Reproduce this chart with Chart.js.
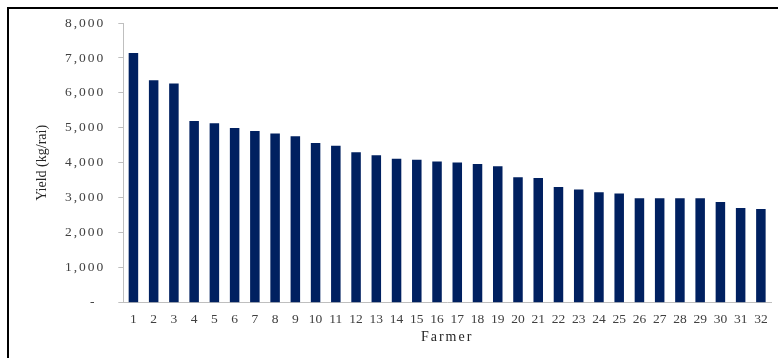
<!DOCTYPE html>
<html>
<head>
<meta charset="utf-8">
<script src="https://cdn.jsdelivr.net/npm/chart.js@4/dist/chart.umd.min.js"></script>
<style>
  html, body { margin: 0; padding: 0; background: #fff; }
  #wrap { position: relative; width: 778px; height: 358px; overflow: hidden; }
  #frame { position: absolute; left: 7px; top: 7px; right: -4px; bottom: -4px;
           border-top: 2px solid #000; border-left: 2px solid #000; pointer-events: none; }
</style>
</head>
<body>
<div id="wrap">
  <canvas id="chart" width="778" height="358"></canvas>
  <div id="frame"></div>
</div>
<script>
// farmers 1..32, yield in kg/rai
const farmers = ["1","2","3","4","5","6","7","8","9","10","11","12","13","14","15","16",
  "17","18","19","20","21","22","23","24","25","26","27","28","29","30","31","32"];
const yieldKgRai = [7140, 6360, 6270, 5200, 5130, 5000, 4910, 4840, 4760, 4570, 4490, 4300,
  4220, 4120, 4090, 4040, 4010, 3970, 3900, 3590, 3570, 3310, 3240, 3160, 3120, 2990,
  2990, 2990, 2990, 2880, 2710, 2680];
const yTicks = [0, 1000, 2000, 3000, 4000, 5000, 6000, 7000, 8000];

const serif = "'Liberation Serif', 'Times New Roman', serif";

// the source picture is stretched sideways, so widen horizontal text a bit
const wideText = {
  id: 'wideText',
  beforeDraw(chart) {
    const ctx = chart.ctx;
    const ys = chart.scales.y, xs = chart.scales.x;
    if (ys && !ys._wide) {
      const orig = ys.drawLabels.bind(ys);
      ys.drawLabels = function(area) {
        ctx.save(); ctx.letterSpacing = '2px'; orig(area); ctx.restore();
      };
      ys._wide = true;
    }
    if (xs && !xs._wide) {
      const origT = xs.drawTitle.bind(xs);
      xs.drawTitle = function(area) {
        ctx.save(); ctx.letterSpacing = '2px'; origT(area); ctx.restore();
      };
      xs._wide = true;
    }
  }
};

new Chart(document.getElementById('chart'), {
  type: 'bar',
  data: {
    labels: farmers,
    datasets: [{
      data: yieldKgRai,
      backgroundColor: '#002060',
      categoryPercentage: 1,
      barPercentage: 0.47
    }]
  },
  options: {
    responsive: false,
    animation: false,
    layout: { padding: { top: 23, right: 7, left: 0, bottom: 0 } },
    plugins: { legend: { display: false }, tooltip: { enabled: false } },
    scales: {
      x: {
        afterFit: s => { s.height = 55.3; },
        grid: { display: false },
        border: { display: true, color: '#bfbfbf', width: 1 },
        ticks: { color: '#404040', padding: 1, maxRotation: 0, autoSkip: false,
                 font: { family: serif, size: 13.5 } },
        title: { display: true, text: 'Farmer', color: '#262626',
                 font: { family: serif, size: 14 }, padding: { top: 0, bottom: 12 } }
      },
      y: {
        min: 0, max: 8000,
        afterFit: s => { s.width = 123.3; },
        afterBuildTicks: s => { s.ticks = yTicks.map(v => ({ value: v })); },
        grid: { drawOnChartArea: false, drawTicks: true, tickLength: 5, color: '#bfbfbf' },
        border: { display: true, color: '#bfbfbf', width: 1 },
        ticks: {
          color: '#404040', padding: 13,
          font: { family: serif, size: 13.5 },
          callback: v => v === 0 ? '-\u2002' : v.toLocaleString('en-US')
        },
        title: { display: true, text: 'Yield (kg/rai)', color: '#262626',
                 font: { family: serif, size: 14 }, padding: { top: 34, bottom: 0 } }
      }
    }
  },
  plugins: [wideText]
});
</script>
</body>
</html>
